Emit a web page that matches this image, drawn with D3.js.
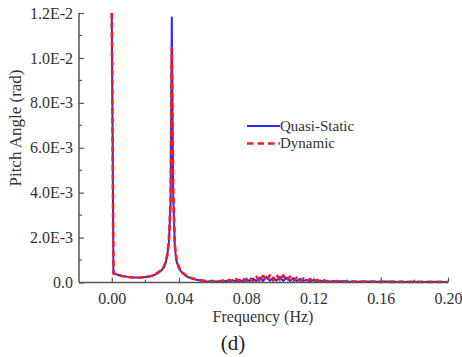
<!DOCTYPE html>
<html>
<head>
<meta charset="utf-8">
<script src="https://cdn.jsdelivr.net/npm/d3@7"></script>
<style>
  body { margin: 0; background: #fff; }
  svg text { font-family: "Liberation Serif", "DejaVu Serif", serif; }
</style>
</head>
<body>
<div id="chart"></div>
<script>
// frequency (Hz)
const freq = [
  0, 0.001, 0.003, 0.006, 0.009, 0.012, 0.015, 0.018, 0.021, 0.024,
  0.026, 0.028, 0.030, 0.031, 0.032, 0.033, 0.034, 0.035, 0.0357, 0.0365,
  0.0375, 0.0385, 0.040,
  0.042, 0.044, 0.046, 0.048, 0.050, 0.052, 0.054, 0.056, 0.058, 0.060,
  0.062, 0.064, 0.066, 0.068, 0.070, 0.072, 0.074, 0.076, 0.078, 0.080,
  0.082, 0.084, 0.086, 0.088, 0.090, 0.092, 0.094, 0.096, 0.098, 0.100,
  0.102, 0.104, 0.106, 0.108, 0.110, 0.112, 0.114, 0.116, 0.118, 0.120,
  0.122, 0.124, 0.126, 0.128, 0.130, 0.132, 0.134, 0.136, 0.138, 0.140,
  0.142, 0.144, 0.146, 0.148, 0.150, 0.152, 0.154, 0.156, 0.158, 0.160,
  0.162, 0.164, 0.166, 0.168, 0.170, 0.172, 0.174, 0.176, 0.178, 0.180,
  0.182, 0.184, 0.186, 0.188, 0.190, 0.192, 0.194, 0.196, 0.198, 0.200
];

// pitch angle, in units of 1E-3 rad
const quasiStatic = [
  12.0, 0.42, 0.36, 0.30, 0.26, 0.23, 0.22, 0.23, 0.26, 0.30,
  0.36, 0.45, 0.58, 0.68, 0.85, 1.2, 1.8, 3.6, 11.8, 4.0,
  1.6, 0.95, 0.62,
  0.42, 0.30, 0.22, 0.17, 0.13, 0.10, 0.08, 0.06, 0.05, 0.05,
  0.04, 0.06, 0.04, 0.08, 0.04, 0.10, 0.05, 0.12, 0.05, 0.15,
  0.06, 0.18, 0.06, 0.22, 0.07, 0.25, 0.08, 0.22, 0.08, 0.25,
  0.07, 0.22, 0.07, 0.20, 0.06, 0.16, 0.06, 0.13, 0.05, 0.11,
  0.05, 0.09, 0.04, 0.08, 0.04, 0.07, 0.04, 0.06, 0.04, 0.05,
  0.03, 0.05, 0.03, 0.05, 0.03, 0.04, 0.03, 0.04, 0.03, 0.04,
  0.03, 0.04, 0.02, 0.04, 0.02, 0.04, 0.02, 0.03, 0.02, 0.03,
  0.02, 0.03, 0.02, 0.03, 0.02, 0.03, 0.02, 0.03, 0.02, 0.02
];

const dynamic = [
  12.0, 0.40, 0.35, 0.29, 0.25, 0.22, 0.21, 0.22, 0.25, 0.30,
  0.37, 0.47, 0.60, 0.72, 0.90, 1.25, 1.9, 3.7, 10.44, 4.2,
  1.7, 1.0, 0.66,
  0.45, 0.32, 0.24, 0.18, 0.14, 0.11, 0.09, 0.07, 0.06, 0.05,
  0.07, 0.04, 0.09, 0.04, 0.12, 0.05, 0.15, 0.05, 0.18, 0.06,
  0.22, 0.06, 0.25, 0.07, 0.30, 0.08, 0.32, 0.08, 0.35, 0.10,
  0.32, 0.08, 0.26, 0.07, 0.22, 0.06, 0.18, 0.05, 0.15, 0.05,
  0.12, 0.04, 0.10, 0.04, 0.08, 0.04, 0.07, 0.03, 0.06, 0.03,
  0.05, 0.03, 0.05, 0.03, 0.04, 0.03, 0.04, 0.03, 0.04, 0.02,
  0.04, 0.02, 0.04, 0.02, 0.03, 0.02, 0.03, 0.02, 0.03, 0.02,
  0.03, 0.02, 0.03, 0.02, 0.03, 0.02, 0.03, 0.02, 0.02, 0.02
];

const xTicks = [0.00, 0.04, 0.08, 0.12, 0.16, 0.20];
const xMinorTicks = [0.02, 0.06, 0.10, 0.14, 0.18];
const yTicks = [0, 2, 4, 6, 8, 10, 12];
const yTickLabels = ["0.0", "2.0E-3", "4.0E-3", "6.0E-3", "8.0E-3", "1.0E-2", "1.2E-2"];
const yMinorTicks = [1, 3, 5, 7, 9, 11];

const seriesNames = ["Quasi-Static", "Dynamic"];

const W = 462, H = 357;
const axisColor = "#555";
const textColor = "#333";
const serif = "Liberation Serif, DejaVu Serif, serif";

const svg = d3.select("#chart").append("svg")
  .attr("width", W)
  .attr("height", H)
  .attr("font-family", serif);

const x = d3.scaleLinear().domain([-0.0195, 0.2]).range([79, 448]);
const y = d3.scaleLinear().domain([0, 12]).range([282.5, 13]);

// lines
const line = d3.line()
  .x((d, i) => x(freq[i]))
  .y(d => y(d));

svg.append("path")
  .datum(quasiStatic)
  .attr("d", line)
  .attr("fill", "none")
  .attr("stroke", "#2a2aff")
  .attr("stroke-width", 2)
  .attr("stroke-linejoin", "round");

svg.append("path")
  .datum(dynamic)
  .attr("d", line)
  .attr("fill", "none")
  .attr("stroke", "#ff1a1a")
  .attr("stroke-width", 2.6)
  .attr("stroke-dasharray", "6,3.5")
  .attr("stroke-linejoin", "round");

// axes
const xAxis = svg.append("g").attr("transform", `translate(0,${y(0)})`);
xAxis.call(d3.axisBottom(x).tickValues(xTicks).tickSize(-5).tickPadding(10)
  .tickFormat(d3.format(".2f")));
xAxis.append("g").selectAll("line")
  .data(xMinorTicks)
  .join("line")
  .attr("x1", d => x(d)).attr("x2", d => x(d))
  .attr("y1", 0).attr("y2", -3)
  .attr("stroke", axisColor).attr("stroke-width", 1.2);

const yAxis = svg.append("g").attr("transform", `translate(${x.range()[0]},0)`);
yAxis.call(d3.axisLeft(y).tickValues(yTicks).tickSize(-5).tickPadding(6)
  .tickFormat((d, i) => yTickLabels[i]));
yAxis.append("g").selectAll("line")
  .data(yMinorTicks)
  .join("line")
  .attr("x1", 0).attr("x2", 3)
  .attr("y1", d => y(d)).attr("y2", d => y(d))
  .attr("stroke", axisColor).attr("stroke-width", 1.2);

[xAxis, yAxis].forEach(g => {
  g.attr("font-family", serif).attr("font-size", 16);
  g.select(".domain").attr("stroke", axisColor).attr("stroke-width", 1.5);
  g.selectAll(".tick line").attr("stroke", axisColor).attr("stroke-width", 1.2);
  g.selectAll(".tick text").attr("fill", textColor);
});
// plain domain lines, no end caps
xAxis.select(".domain").attr("d", `M${x.range()[0]},0H${x.range()[1]}`);
yAxis.select(".domain").attr("d", `M0,${y.range()[0]}V${y.range()[1]}`);

// axis titles
svg.append("text")
  .attr("x", 263)
  .attr("y", 322)
  .attr("text-anchor", "middle")
  .attr("fill", textColor)
  .attr("font-size", 16)
  .text("Frequency (Hz)");

svg.append("text")
  .attr("transform", "translate(21,128) rotate(-90)")
  .attr("text-anchor", "middle")
  .attr("fill", textColor)
  .attr("font-size", 17)
  .text("Pitch Angle (rad)");

svg.append("text")
  .attr("x", 233)
  .attr("y", 350)
  .attr("text-anchor", "middle")
  .attr("fill", "#222")
  .attr("font-size", 21)
  .text("(d)");

// legend
const legend = svg.append("g");
const legendRows = [
  { name: seriesNames[0], color: "#2a2aff", dash: null, width: 2, yPos: 126 },
  { name: seriesNames[1], color: "#ff1a1a", dash: "6.5,4", width: 2.6, yPos: 143.5 }
];
legendRows.forEach(r => {
  legend.append("line")
    .attr("x1", 247).attr("x2", 280)
    .attr("y1", r.yPos).attr("y2", r.yPos)
    .attr("stroke", r.color)
    .attr("stroke-width", r.width)
    .attr("stroke-dasharray", r.dash);
  legend.append("text")
    .attr("x", 280)
    .attr("y", r.yPos + 4.5)
    .attr("fill", textColor)
    .attr("font-size", 15)
    .text(r.name);
});
</script>
</body>
</html>
